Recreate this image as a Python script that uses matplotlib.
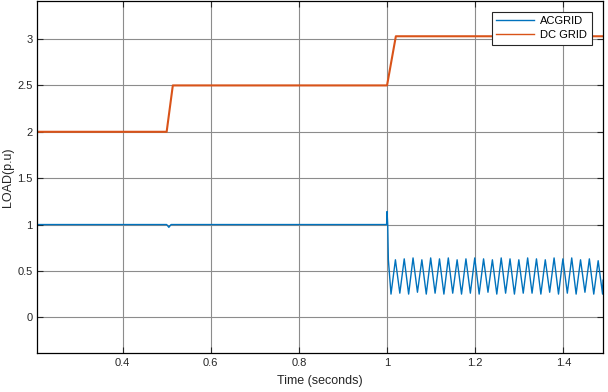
import numpy as np
import matplotlib
matplotlib.use("Agg")
import matplotlib.pyplot as plt

plt.rcParams['font.family'] = ['Liberation Sans', 'DejaVu Sans']

# ---- data ----
x_limits = [0.2066, 1.49]
y_limits = [-0.385, 3.41]
x_ticks = [0.4, 0.6, 0.8, 1.0, 1.2, 1.4]
x_tick_labels = ["0.4", "0.6", "0.8", "1", "1.2", "1.4"]
y_ticks = [0, 0.5, 1, 1.5, 2, 2.5, 3]
y_tick_labels = ["0", "0.5", "1", "1.5", "2", "2.5", "3"]

dc_time = [0.2066, 0.500, 0.514, 1.000, 1.020, 1.49]
dc_load = [2.00, 2.00, 2.50, 2.50, 3.03, 3.03]

ac_time_pre = [0.2066, 0.500, 0.505, 0.510, 0.999, 1.000, 1.0015, 1.003]
ac_load_pre = [1.00, 1.00, 0.97, 1.00, 1.00, 1.14, 1.00, 0.62]

osc_first_trough = 1.009
osc_half_period = 0.010
osc_troughs = [0.25, 0.26, 0.25, 0.27, 0.25, 0.26, 0.25, 0.26, 0.25, 0.26,
               0.25, 0.27, 0.25, 0.26, 0.25, 0.26, 0.26, 0.25, 0.27, 0.25,
               0.26, 0.25, 0.27, 0.25, 0.25]
osc_peaks = [0.62, 0.63, 0.64, 0.62, 0.64, 0.63, 0.64, 0.62, 0.63, 0.64,
             0.63, 0.62, 0.64, 0.63, 0.62, 0.64, 0.63, 0.62, 0.64, 0.63,
             0.64, 0.62, 0.63, 0.61]
ac_end_time = 1.49
ac_end_load = 0.40

# build AC series from the read extrema
osc_vals = []
for i in range(len(osc_troughs)):
    osc_vals.append(osc_troughs[i])
    if i < len(osc_peaks):
        osc_vals.append(osc_peaks[i])
osc_times = [osc_first_trough + k * osc_half_period for k in range(len(osc_vals))]
ac_time = ac_time_pre + osc_times + [ac_end_time]
ac_load = ac_load_pre + osc_vals + [ac_end_load]

# ---- figure ----
fig = plt.figure(figsize=(6.08, 3.92), dpi=100)
ax = fig.add_axes([0.0614, 0.0995, 0.9304, 0.8979])

blue = '#0072BD'
orange = '#D95319'
ax.plot(ac_time, ac_load, color=blue, lw=1.0, label='ACGRID')
ax.plot(dc_time, dc_load, color=orange, lw=1.5, label='DC GRID')

ax.set_xlim(x_limits)
ax.set_ylim(y_limits)
ax.set_xticks(x_ticks)
ax.set_xticklabels(x_tick_labels)
ax.set_yticks(y_ticks)
ax.set_yticklabels(y_tick_labels)

ax.grid(True, color='#8c8c8c', lw=0.8)
ax.set_axisbelow(True)
ax.tick_params(direction='in', top=True, right=True, labelsize=8,
               length=4, width=0.8, colors='#262626', labelcolor='#262626')
for s in ax.spines.values():
    s.set_linewidth(0.9)
    s.set_color('#000000')

ax.set_xlabel('Time (seconds)', fontsize=9, color='#262626', labelpad=5)
ax.set_ylabel('LOAD(p.u)', fontsize=9, color='#262626', labelpad=2)

leg = ax.legend(loc='upper right', fontsize=8, frameon=True, fancybox=False,
                edgecolor='#262626', framealpha=1, borderpad=0.4,
                handlelength=3.4, handletextpad=0.6, labelspacing=0.35,
                bbox_to_anchor=(0.99, 0.985))
leg.get_frame().set_linewidth(0.8)
for line in leg.get_lines():
    line.set_linewidth(1.0)

fig.savefig('out.png', dpi=100)
